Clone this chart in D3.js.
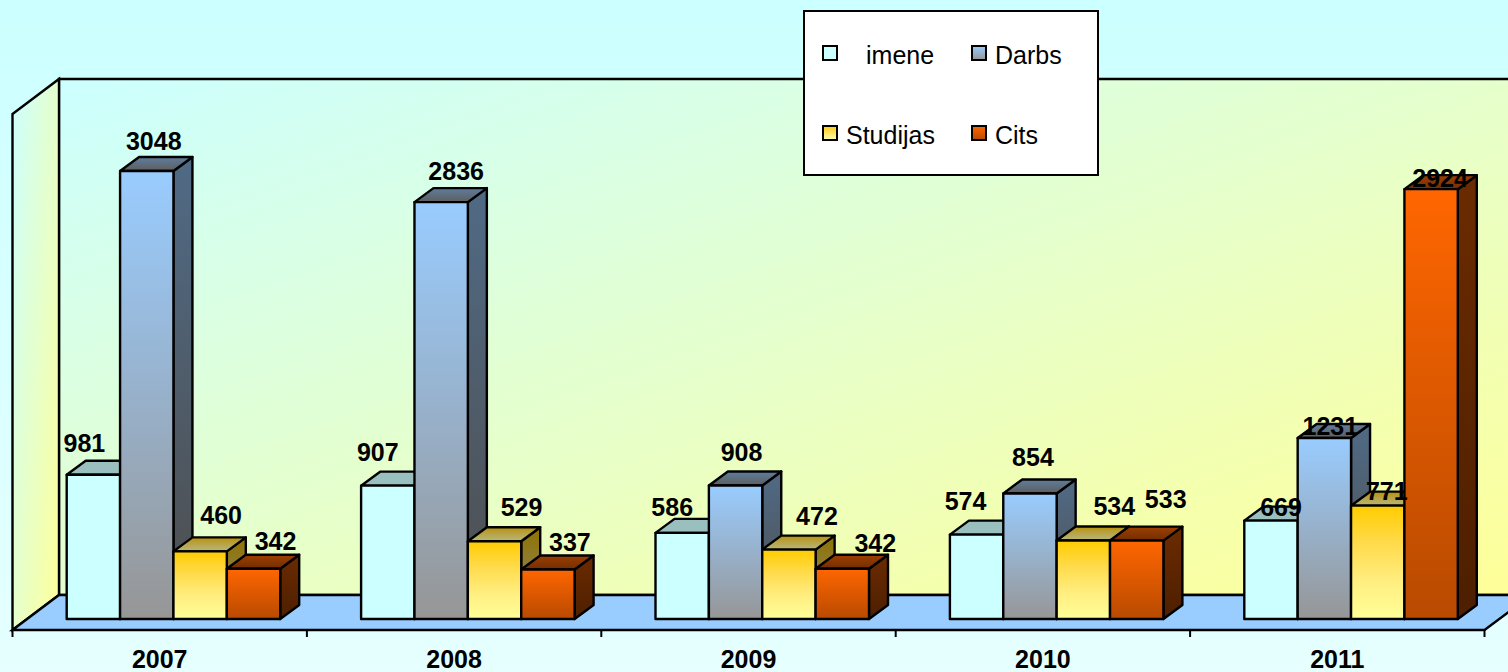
<!DOCTYPE html>
<html>
<head>
<meta charset="utf-8">
<style>
html, body { margin: 0; padding: 0; overflow: hidden; }
svg { display: block; font-family: "Liberation Sans", Arial, sans-serif; }
</style>
<script src="https://cdn.jsdelivr.net/npm/d3@7"></script>
</head>
<body>
<div id="chart"></div>
<script>
const years = ["2007", "2008", "2009", "2010", "2011"];
const seriesNames = ["imene", "Darbs", "Studijas", "Cits"];

const imene = [981, 907, 586, 574, 669];
const darbs = [3048, 2836, 908, 854, 1231];
const studijas = [460, 529, 472, 534, 771];
const cits = [342, 337, 342, 533, 2924];
const seriesValues = [imene, darbs, studijas, cits];

// colours of the front faces, top to bottom
const barStops = [
    ["#ccffff", "#ccffff"],
    ["#99ccff", "#969696"],
    ["#ffcc00", "#ffdb4c", "#ffee80", "#ffff99"],
    ["#ff6600", "#b84a00"]
];
const topShade = [0.75, 0.62, 0.72, 0.62];
const sideShade = [0.6, 0.52, 0.56, 0.42];

// the labels were dragged by hand in the original, so each one gets its own nudge [dx, dy]
const labelNudge = [
    [[-9, -32], [-10, -33], [-10, -26], [-11, -33], [10, -13]],
    [[7, -30], [15, -31], [6, -33], [3, -36], [6, -12]],
    [[21, -36], [27, -34], [28, -33], [31, -34], [9, -14]],
    [[22, -27], [22, -27], [33, -25], [29, -41], [9, -11]]
];

const width = 1508,
      height = 672,
      strokeW = 2.4,
      fontSize = 25,
      depth = { x: 19, y: -14 },
      floor = { left: 12.5, right: 1484.5, front: 630, back: 595, base: 619 },
      wall = { left: 59, top: 79, sideTop: 114 };

const svg = d3.select("#chart")
    .append("svg")
    .attr("width", width)
    .attr("height", height)
    .attr("viewBox", [0, 0, width, height]);

const defs = svg.append("defs");

function addGradient(id, stops, diagonal) {
    const g = defs.append("linearGradient")
        .attr("id", id)
        .attr("x1", 0).attr("y1", 0)
        .attr("x2", diagonal ? 1 : 0).attr("y2", 1);
    stops.forEach((c, i) => {
        g.append("stop")
            .attr("offset", i / (stops.length - 1))
            .attr("stop-color", c);
    });
}

function shade(c, f) {
    const r = d3.rgb(c);
    return d3.rgb(r.r * f, r.g * f, r.b * f).formatHex();
}

addGradient("page", ["#ccffff", "#e6ffff"], false);
addGradient("wall", ["#ccffff", "#ffff99"], true);

barStops.forEach((stops, i) => {
    addGradient(`front${i}`, stops, false);
    addGradient(`top${i}`, stops.map(c => shade(c, topShade[i])), false);
    addGradient(`side${i}`, stops.map(c => shade(c, sideShade[i])), false);
});

// scales
const x0 = d3.scaleBand()
    .domain(years)
    .range([floor.left, floor.right]);

const groupInset = 54.2;

const x1 = d3.scaleBand()
    .domain(seriesNames)
    .range([0, 213.5]);

const y = d3.scaleLinear()
    .domain([0, 3500])
    .range([floor.base, floor.base - 514.5]);

const poly = pts => pts.map(p => p.join(",")).join(" ");

svg.append("rect")
    .attr("width", width)
    .attr("height", height)
    .attr("fill", "url(#page)");

// back wall, side wall and floor
svg.append("polygon")
    .attr("points", poly([[wall.left, wall.top], [width + 3, wall.top], [width + 3, floor.back], [wall.left, floor.back]]))
    .attr("fill", "url(#wall)")
    .attr("stroke", "#000")
    .attr("stroke-width", strokeW);

svg.append("polygon")
    .attr("points", poly([[floor.left, wall.sideTop], [wall.left, wall.top], [wall.left, floor.back], [floor.left, floor.front]]))
    .attr("fill", "url(#wall)")
    .attr("stroke", "#000")
    .attr("stroke-width", strokeW);

svg.append("polygon")
    .attr("points", poly([[floor.left, floor.front], [wall.left, floor.back], [floor.right + 47, floor.back], [floor.right, floor.front]]))
    .attr("fill", "#99ccff")
    .attr("stroke", "#000")
    .attr("stroke-width", strokeW);

// x axis, ticks sit on the band edges so the labels come from the axis and the ticks are separate
const axis = svg.append("g")
    .attr("transform", `translate(0,${floor.front})`)
    .call(d3.axisBottom(x0).tickSize(0).tickPadding(20));

axis.select(".domain").remove();
axis.selectAll("text")
    .attr("fill", "#000")
    .attr("font-family", "'Liberation Sans', Arial, sans-serif")
    .attr("font-size", fontSize)
    .attr("font-weight", "bold");

axis.selectAll(".edge")
    .data(years.map(d => x0(d)).concat(floor.right))
    .join("line")
    .attr("class", "edge")
    .attr("x1", d => d)
    .attr("x2", d => d)
    .attr("y1", 0)
    .attr("y2", 7)
    .attr("stroke", "#000")
    .attr("stroke-width", 2);

// bars, series by series so the next bar covers the side of the one before
const bars = svg.append("g");

years.forEach((year, yi) => {
    seriesNames.forEach((name, si) => {
        const v = seriesValues[si][yi],
              left = x0(year) + groupInset + x1(name),
              right = left + x1.bandwidth(),
              top = y(v),
              base = y(0);

        const bar = bars.append("g").attr("class", "bar");

        bar.append("polygon") // right side
            .attr("points", poly([[right, top], [right + depth.x, top + depth.y], [right + depth.x, base + depth.y], [right, base]]))
            .attr("fill", `url(#side${si})`);

        bar.append("polygon") // top
            .attr("points", poly([[left, top], [left + depth.x, top + depth.y], [right + depth.x, top + depth.y], [right, top]]))
            .attr("fill", `url(#top${si})`);

        bar.append("rect") // front
            .attr("x", left)
            .attr("y", top)
            .attr("width", x1.bandwidth())
            .attr("height", base - top)
            .attr("fill", `url(#front${si})`);

        bar.selectAll("polygon, rect")
            .attr("stroke", "#000")
            .attr("stroke-width", strokeW)
            .attr("stroke-linejoin", "round");
    });
});

// data labels on top of everything
const labels = svg.append("g")
    .attr("font-size", fontSize)
    .attr("font-weight", "bold")
    .attr("text-anchor", "middle")
    .attr("fill", "#000");

years.forEach((year, yi) => {
    seriesNames.forEach((name, si) => {
        const v = seriesValues[si][yi],
              nudge = labelNudge[si][yi];
        labels.append("text")
            .attr("x", x0(year) + groupInset + x1(name) + x1.bandwidth() / 2 + nudge[0])
            .attr("y", y(v) + nudge[1])
            .attr("dy", "0.35em")
            .text(v);
    });
});

// legend
const legend = svg.append("g");

legend.append("rect")
    .attr("x", 804)
    .attr("y", 11)
    .attr("width", 294)
    .attr("height", 164)
    .attr("fill", "#fff")
    .attr("stroke", "#000")
    .attr("stroke-width", 2);

const legendX = d3.scalePoint().domain([0, 1]).range([823, 972]);
const legendY = d3.scalePoint().domain([0, 1]).range([46, 126]);
const legendTextX = [866, 995, 846, 995];

seriesNames.forEach((name, i) => {
    const col = i % 2,
          row = Math.floor(i / 2);

    legend.append("rect")
        .attr("x", legendX(col))
        .attr("y", legendY(row))
        .attr("width", 14)
        .attr("height", 14)
        .attr("fill", `url(#front${i})`)
        .attr("stroke", "#000")
        .attr("stroke-width", 2);

    legend.append("text")
        .attr("x", legendTextX[i])
        .attr("y", legendY(row) + 18)
        .attr("font-size", fontSize)
        .attr("fill", "#000")
        .text(name);
});
</script>
</body>
</html>
